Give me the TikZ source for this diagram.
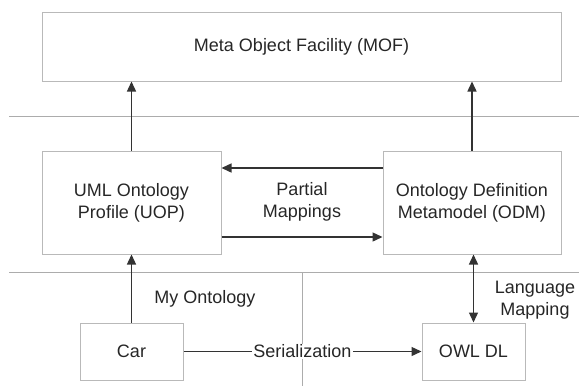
\documentclass[tikz,border=0pt]{standalone}
\usepackage{fontspec}
\setmainfont{Liberation Sans}
\usetikzlibrary{arrows.meta}
\tikzset{
  block/.style={draw=gray!55, line width=1pt, inner sep=0pt, align=center, text=black!85},
  link/.style={draw=black!80, line width=1.4pt},
  sepline/.style={draw=gray!65, line width=1pt},
  >={Triangle[length=10pt,width=9pt]},
}
\begin{document}
\begin{tikzpicture}[x=1pt, y=-1pt, font=\fontsize{18}{22}\selectfont]
\useasboundingbox (0,0) rectangle (579,386);
% layer separators
\coordinate (topw) at (9,116);
\coordinate (tope) at (579,116);
\coordinate (botw) at (9,272);
\coordinate (bote) at (579,272);
\coordinate (midn) at (302,272);
\coordinate (mids) at (302,386);
\draw[sepline] (topw) -- (tope);
\draw[sepline] (botw) -- (bote);
\draw[sepline] (midn) -- (mids);
% blocks
\node[block, minimum width=519pt, minimum height=69pt] (mof) at (301.5,46.5) {Meta Object Facility (MOF)};
\node[block, minimum width=179pt, minimum height=103pt] (uop) at (131.5,202.5) {UML Ontology\\Profile (UOP)};
\node[block, minimum width=178pt, minimum height=103pt] (odm) at (472,202.5) {Ontology Definition\\Metamodel (ODM)};
\node[block, minimum width=103pt, minimum height=57pt] (car) at (131.5,351.5) {Car};
\node[block, minimum width=103pt, minimum height=57pt] (owl) at (473.5,351.5) {OWL DL};
% labels
\node[align=center, text=black!85] (partial) at (302,202) {Partial\\Mappings};
\node[text=black!85] (myonto) at (205,299) {My Ontology};
\node[align=center, text=black!85] (langmap) at (535,300.5) {Language\\Mapping};
% connectors
\draw[link,->] (uop.north) -- (uop.north |- mof.south);
\draw[link,->] (odm.north) -- (odm.north |- mof.south);
\draw[link,->] ([yshift=34.5pt]odm.west) -- ([yshift=34.5pt]uop.east);
\draw[link,->] ([yshift=-34.5pt]uop.east) -- ([yshift=-34.5pt]odm.west);
\draw[link,->] (car) -- (uop);
\draw[link,<->] (owl.north) -- (owl.north |- odm.south);
\draw[link,->] (car) -- node[fill=white, inner sep=1pt, text=black!85] (serial) {Serialization} (owl);
\end{tikzpicture}
\end{document}
